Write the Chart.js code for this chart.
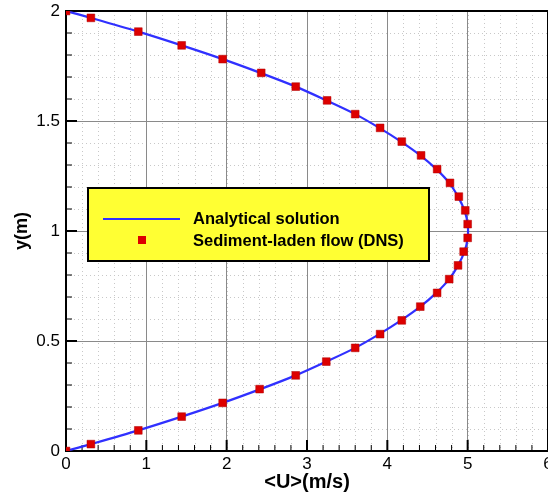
<!DOCTYPE html>
<html>
<head>
<meta charset="utf-8">
<script src="https://cdn.jsdelivr.net/npm/chart.js@4.4.1/dist/chart.umd.min.js"></script>
<style>
  html, body { margin: 0; padding: 0; overflow: hidden; background: #fff; }
  #wrap { position: relative; width: 600px; height: 496px; }
</style>
</head>
<body>
<div id="wrap"><canvas id="profileChart"></canvas></div>
<script>
// y positions (m) of the samples
const yPos = [0, 0.03125, 0.09375, 0.15625, 0.21875, 0.28125, 0.34375, 0.40625, 0.46875,
    0.53125, 0.59375, 0.65625, 0.71875, 0.78125, 0.84375, 0.90625, 0.96875,
    1.03125, 1.09375, 1.15625, 1.21875, 1.28125, 1.34375, 1.40625, 1.46875,
    1.53125, 1.59375, 1.65625, 1.71875, 1.78125, 1.84375, 1.90625, 1.96875, 2];
// <U> values (m/s)
const uAnalytical = [0, 0.31, 0.9, 1.44, 1.95, 2.42, 2.86, 3.24, 3.6,
    3.9, 4.17, 4.41, 4.61, 4.77, 4.88, 4.96, 5.0,
    5.0, 4.96, 4.88, 4.77, 4.61, 4.41, 4.17, 3.9,
    3.6, 3.24, 2.86, 2.42, 1.95, 1.44, 0.9, 0.31, 0];
const uDNS = [0, 0.31, 0.9, 1.44, 1.95, 2.41, 2.86, 3.24, 3.6,
    3.91, 4.18, 4.41, 4.62, 4.77, 4.88, 4.95, 5.0,
    5.0, 4.97, 4.89, 4.78, 4.62, 4.42, 4.18, 3.91,
    3.6, 3.25, 2.86, 2.43, 1.95, 1.44, 0.9, 0.31, 0];
const seriesLabels = ['Analytical solution', 'Sediment-laden flow (DNS)'];

const xMajor = [0, 1, 2, 3, 4, 5, 6];
const yMajor = [0, 0.5, 1, 1.5, 2];

const toPoints = (xs, ys) => xs.map((x, i) => ({ x: x, y: ys[i] }));

// minor dotted grid, drawn under the major grid
const minorGrid = {
    id: 'minorGrid',
    beforeDraw(chart) {
        const { ctx, chartArea: a, scales: { x, y } } = chart;
        ctx.save();
        ctx.strokeStyle = '#c8c8c8';
        ctx.lineWidth = 1;
        ctx.setLineDash([1, 3]);
        ctx.beginPath();
        for (let v = 0.2; v < 6; v += 0.2) {
            const px = Math.round(x.getPixelForValue(v)) + 0.5;
            ctx.moveTo(px, a.top); ctx.lineTo(px, a.bottom);
        }
        for (let v = 0.1; v < 2; v += 0.1) {
            const py = Math.round(y.getPixelForValue(v)) + 0.5;
            ctx.moveTo(a.left, py); ctx.lineTo(a.right, py);
        }
        ctx.stroke();
        ctx.restore();
    }
};

// frame and inward ticks
const frame = {
    id: 'frame',
    beforeDatasetsDraw(chart) {
        const { ctx, chartArea: a, scales: { x, y } } = chart;
        ctx.save();
        ctx.strokeStyle = '#000';
        ctx.lineWidth = 2;
        ctx.strokeRect(a.left, a.top, a.right - a.left, a.bottom - a.top);
        for (let i = 0; i <= 30; i++) {
            const px = x.getPixelForValue(i * 0.2);
            const len = i % 5 === 0 ? 11 : 6;
            ctx.lineWidth = i % 5 === 0 ? 2 : 1;
            ctx.beginPath();
            ctx.moveTo(px, a.bottom); ctx.lineTo(px, a.bottom - len);
            ctx.stroke();
        }
        for (let i = 0; i <= 20; i++) {
            const py = y.getPixelForValue(i * 0.1);
            const len = i % 5 === 0 ? 11 : 6;
            ctx.lineWidth = i % 5 === 0 ? 2 : 1;
            ctx.beginPath();
            ctx.moveTo(a.left, py); ctx.lineTo(a.left + len, py);
            ctx.stroke();
        }
        ctx.restore();
    }
};

// boxed legend inside the plot
const boxLegend = {
    id: 'boxLegend',
    afterDatasetsDraw(chart) {
        const { ctx } = chart;
        const ds = chart.data.datasets;
        const bx = 88, by = 188, bw = 341, bh = 73;
        ctx.save();
        ctx.fillStyle = '#ffff33';
        ctx.fillRect(bx, by, bw, bh);
        ctx.strokeStyle = '#000';
        ctx.lineWidth = 2;
        ctx.strokeRect(bx, by, bw, bh);
        ctx.font = 'bold 16.5px "Liberation Sans", Arial, sans-serif';
        ctx.fillStyle = '#000';
        ctx.textBaseline = 'middle';
        ctx.fillText(ds[0].label, 193, 219);
        ctx.fillText(ds[1].label, 193, 241);
        ctx.strokeStyle = ds[0].borderColor;
        ctx.lineWidth = 2;
        ctx.beginPath();
        ctx.moveTo(103, 219); ctx.lineTo(180, 219);
        ctx.stroke();
        ctx.fillStyle = ds[1].backgroundColor;
        ctx.fillRect(138, 236, 8, 8);
        ctx.restore();
    }
};

const font = { family: '"Liberation Sans", Arial, sans-serif' };

new Chart(document.getElementById('profileChart'), {
    type: 'scatter',
    data: {
        datasets: [{
            label: seriesLabels[0],
            data: toPoints(uAnalytical, yPos),
            showLine: true,
            borderColor: '#3030ff',
            borderWidth: 2.2,
            pointRadius: 0,
            tension: 0.3,
            order: 2
        }, {
            label: seriesLabels[1],
            data: toPoints(uDNS, yPos),
            showLine: false,
            pointStyle: 'rect',
            pointRadius: 5.5,
            backgroundColor: '#dd0000',
            borderColor: '#b00000',
            borderWidth: 0.5,
            order: 1
        }]
    },
    options: {
        responsive: true,
        maintainAspectRatio: false,
        animation: false,
        layout: { padding: { top: 11, right: 52, bottom: 0, left: 0 } },
        plugins: {
            legend: { display: false },
            tooltip: { enabled: false }
        },
        scales: {
            x: {
                type: 'linear',
                min: 0,
                max: 6,
                afterBuildTicks: s => { s.ticks = xMajor.map(v => ({ value: v })); },
                afterFit: s => { s.height = 45; s.paddingLeft = 0; s.paddingRight = 0; },
                ticks: {
                    color: '#000',
                    padding: 3,
                    font: { ...font, size: 17 },
                    callback: v => String(v)
                },
                grid: { color: '#8a8a8a', lineWidth: 1, drawTicks: false },
                border: { display: false },
                title: {
                    display: true,
                    text: '<U>(m/s)',
                    color: '#000',
                    padding: 2,
                    font: { ...font, size: 20, weight: 'bold' }
                }
            },
            y: {
                type: 'linear',
                min: 0,
                max: 2,
                afterBuildTicks: s => { s.ticks = yMajor.map(v => ({ value: v })); },
                afterFit: s => { s.width = 66; s.paddingTop = 0; s.paddingBottom = 0; },
                ticks: {
                    color: '#000',
                    padding: 6,
                    font: { ...font, size: 17 },
                    callback: v => String(v)
                },
                grid: { color: '#8a8a8a', lineWidth: 1, drawTicks: false },
                border: { display: false },
                title: {
                    display: true,
                    text: 'y(m)',
                    color: '#000',
                    padding: 11,
                    font: { ...font, size: 18, weight: 'bold' }
                }
            }
        }
    },
    plugins: [minorGrid, frame, boxLegend]
});
</script>
</body>
</html>
